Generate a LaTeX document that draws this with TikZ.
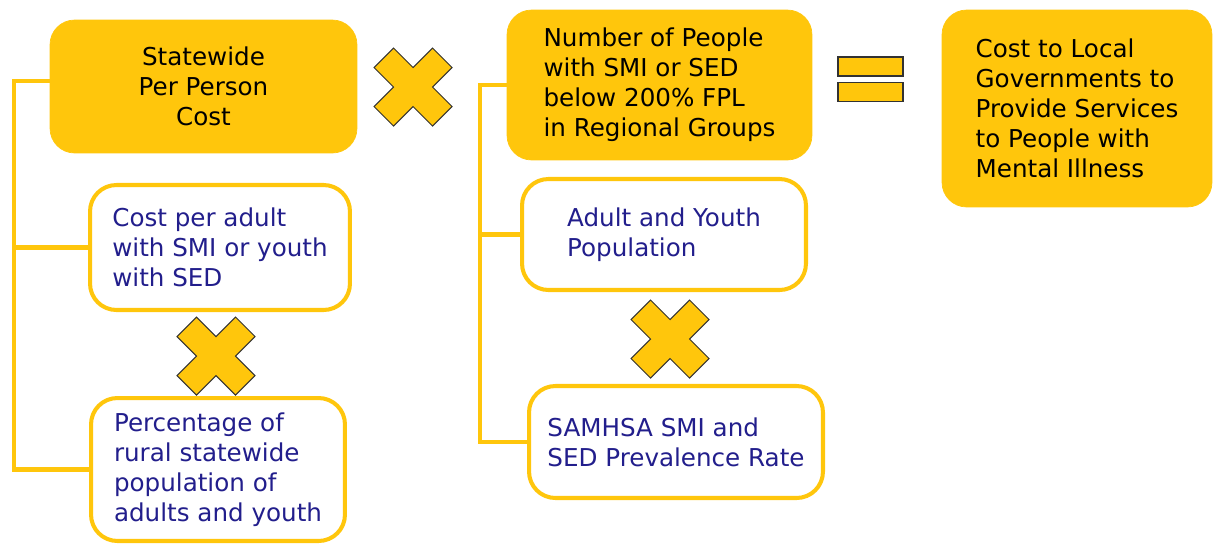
\documentclass[tikz,border=0pt]{standalone}
\usepackage{fontspec}
\setmainfont{DejaVu Sans}
\usetikzlibrary{positioning}
\definecolor{boxyellow}{RGB}{255,198,12}
\definecolor{textnavy}{RGB}{34,30,140}
\definecolor{crossedge}{RGB}{50,50,50}
\tikzset{
  yellowbox/.style={rounded corners=14pt,fill=boxyellow,draw=boxyellow,inner sep=0pt,
    align=left,text=black,font=\fontsize{14}{17}\selectfont},
  whitebox/.style={rounded corners=15pt,fill=white,draw=boxyellow,line width=2.3pt,inner sep=0pt,
    align=left,text=textnavy,font=\fontsize{14}{17}\selectfont},
  bracket/.style={draw=boxyellow,line width=2.3pt},
  crossline/.style={fill=boxyellow,draw=crossedge,line width=0.6pt},
  timesmark/.pic={\path[crossline] (0,1) -- (1,2) -- (2,1) -- (1,0) -- (2,-1) -- (1,-2) -- (0,-1)
    -- (-1,-2) -- (-2,-1) -- (-1,0) -- (-2,1) -- (-1,2) -- cycle;},
  eqbar/.style={fill=boxyellow,draw=crossedge,line width=0.9pt,minimum width=1.3cm,
    minimum height=0.38cm,inner sep=0pt}
}

\begin{document}
\begin{tikzpicture}[x=0.02cm,y=-0.02cm]
  \useasboundingbox (0,0) rectangle (1214,545);

  \node[yellowbox,align=center,minimum width=6.14cm,minimum height=2.66cm] (statecost) at (203.5,86.5)
    {Statewide\\Per Person\\Cost};
  \node[whitebox,minimum width=5.20cm,minimum height=2.50cm] (costadult) at (220,247.5)
    {Cost per adult\\with SMI or youth\\with SED};
  \node[whitebox,minimum width=5.08cm,minimum height=2.86cm] (percrural) at (218,469.5)
    {Percentage of\\rural statewide\\population of\\adults and youth};

  \node[yellowbox,minimum width=6.10cm,minimum height=3.00cm] (peoplecount) at (659.5,85)
    {Number of People\\with SMI or SED\\below 200\% FPL\\in Regional Groups};
  \node[whitebox,minimum width=5.68cm,minimum height=2.22cm] (adultpop) at (664,234.5)
    {Adult and Youth\\Population};
  \node[whitebox,minimum width=5.88cm,minimum height=2.24cm] (prevrate) at (676,442)
    {SAMHSA SMI and\\SED Prevalence Rate};

  \node[yellowbox,minimum width=5.40cm,minimum height=3.94cm] (localcost) at (1077,108.5)
    {Cost to Local\\Governments to\\Provide Services\\to People with\\Mental Illness};

  \coordinate (lspine) at (14,0);
  \coordinate (mspine) at (480,0);
  \draw[bracket] ([yshift=0.11cm]statecost.west) -| (lspine |- percrural.west) -- (percrural.west);
  \draw[bracket] (costadult.west -| lspine) -- (costadult.west);
  \draw[bracket] (peoplecount.west) -| (mspine |- prevrate.west) -- (prevrate.west);
  \draw[bracket] (adultpop.west -| mspine) -- (adultpop.west);

  \pic[scale=19.5] at (413,87) {timesmark};
  \pic[scale=19.5] at (216,356) {timesmark};
  \pic[scale=19.5] at (670,339) {timesmark};

  \node[eqbar] (eqtop) at (870.5,66.5) {};
  \node[eqbar,below=0.1cm of eqtop] (eqbottom) {};
\end{tikzpicture}
\end{document}
